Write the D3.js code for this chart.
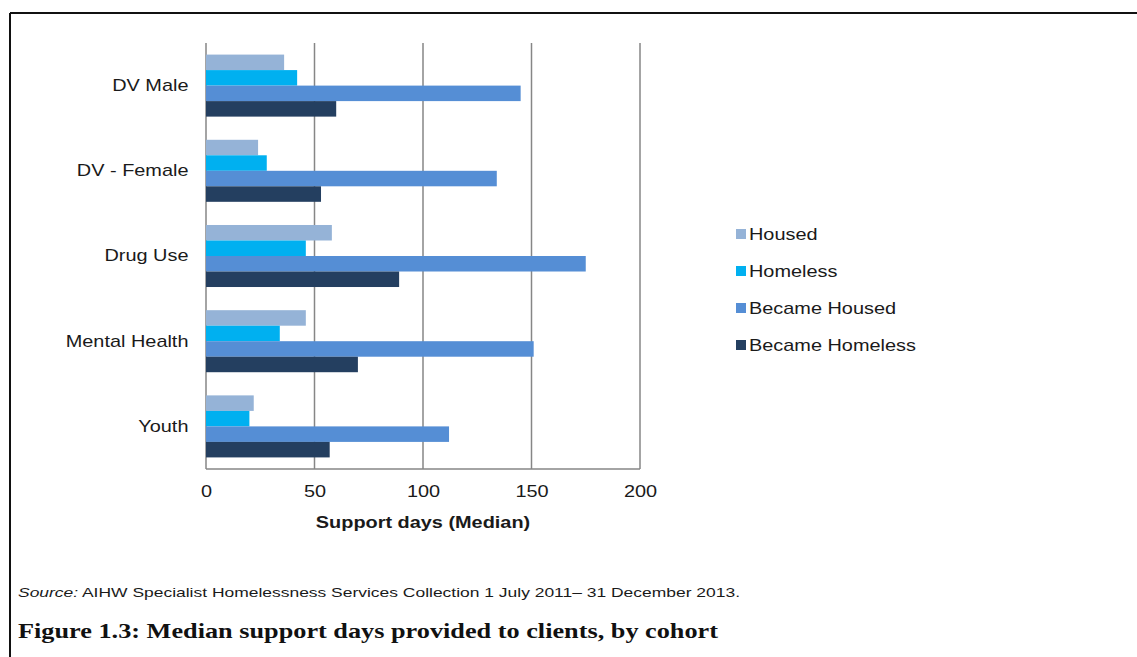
<!DOCTYPE html>
<html>
<head>
<meta charset="utf-8">
<script src="https://cdn.jsdelivr.net/npm/d3@7"></script>
<style>
  body { margin: 0; background: #fff; }
</style>
</head>
<body>
<div id="canvas"></div>
<script>
"use strict"

// the data
let cohorts = ["DV Male", "DV - Female", "Drug Use", "Mental Health", "Youth"];
let seriesNames = ["Housed", "Homeless", "Became Housed", "Became Homeless"];
let housed = [36, 24, 58, 46, 22];
let homeless = [42, 28, 46, 34, 20];
let becameHoused = [145, 134, 175, 151, 112];
let becameHomeless = [60, 53, 89, 70, 57];
let xTicks = [0, 50, 100, 150, 200];
let colours = ["#95b3d7", "#00b0f0", "#558ed5", "#243f60"];

let allSeries = [housed, homeless, becameHoused, becameHomeless];

let sans = "Arial, 'Liberation Sans', sans-serif";
let stretch = "scale(1.17,1)";// the scan is a bit wide

let drawing = d3.select("#canvas")
    .append("svg")
    .attr("width", 1137)
    .attr("height", 657)
    .style("font-family", sans);

/* the page frame, top and left */
drawing.append("line")
    .attr("x1", 10).attr("y1", 13)
    .attr("x2", 1137).attr("y2", 13)
    .attr("stroke", "#111")
    .attr("stroke-width", 2);
drawing.append("line")
    .attr("x1", 10).attr("y1", 13)
    .attr("x2", 10).attr("y2", 657)
    .attr("stroke", "#111")
    .attr("stroke-width", 2);

/* scales */
let x = d3.scaleLinear()
    .domain([0, 200])
    .range([206, 640]);

let y = d3.scaleBand()
    .domain(cohorts)
    .range([43, 469])
    .paddingInner(0.272)
    .paddingOuter(0.136);

let ySeries = d3.scaleBand()
    .domain(seriesNames)
    .range([0, y.bandwidth()]);

/* gridlines */
drawing.append("g")
    .selectAll("line")
    .data(xTicks)
    .join("line")
    .attr("x1", d => x(d))
    .attr("x2", d => x(d))
    .attr("y1", 43)
    .attr("y2", 469)
    .attr("stroke", "#868686")
    .attr("stroke-width", 1.5);

/* bottom line of the plot */
drawing.append("line")
    .attr("x1", x(0)).attr("x2", x(200))
    .attr("y1", 469).attr("y2", 469)
    .attr("stroke", "#868686")
    .attr("stroke-width", 1.5);

/* bars */
seriesNames.forEach(function(name, i) {
    drawing.append("g")
        .selectAll("rect")
        .data(allSeries[i])
        .join("rect")
        .attr("x", x(0))
        .attr("y", (d, j) => y(cohorts[j]) + ySeries(name))
        .attr("width", d => x(d) - x(0))
        .attr("height", ySeries.bandwidth())
        .attr("fill", colours[i]);
});

/* x axis labels */
let xAxis = d3.axisBottom(x)
    .tickValues(xTicks)
    .tickSize(0)
    .tickPadding(16);
let xAxisG = drawing.append("g")
    .attr("transform", "translate(0,469)")
    .call(xAxis);
xAxisG.select(".domain").remove();
xAxisG.selectAll("text")
    .attr("font-size", 17)
    .attr("font-family", sans)
    .attr("transform", stretch)
    .attr("fill", "#1a1a1a");

/* category labels */
let yAxis = d3.axisLeft(y)
    .tickSize(0)
    .tickPadding(15);
let yAxisG = drawing.append("g")
    .attr("transform", "translate(206,0)")
    .call(yAxis);
yAxisG.select(".domain").remove();
yAxisG.selectAll("text")
    .attr("font-size", 17)
    .attr("font-family", sans)
    .attr("transform", stretch)
    .attr("fill", "#1a1a1a");

/* axis title */
drawing.append("text")
    .attr("transform", "translate(423,528) " + stretch)
    .attr("text-anchor", "middle")
    .attr("font-size", 17)
    .attr("font-weight", "bold")
    .attr("fill", "#1a1a1a")
    .text("Support days (Median)");

/* legend */
let legend = drawing.append("g")
    .selectAll("g")
    .data(seriesNames)
    .join("g")
    .attr("transform", (d, i) => "translate(736," + (234 + i * 37) + ")");
legend.append("rect")
    .attr("x", 0)
    .attr("y", -5)
    .attr("width", 10)
    .attr("height", 10)
    .attr("fill", (d, i) => colours[i]);
legend.append("text")
    .attr("transform", "translate(13,6) " + stretch)
    .attr("font-size", 17)
    .attr("fill", "#1a1a1a")
    .text(d => d);

/* source note */
let source = drawing.append("text")
    .attr("x", 18)
    .attr("y", 597)
    .attr("font-size", 13.5)
    .attr("textLength", 722)
    .attr("lengthAdjust", "spacingAndGlyphs")
    .attr("fill", "#1a1a1a");
source.append("tspan")
    .attr("font-style", "italic")
    .text("Source:");
source.append("tspan")
    .text(" AIHW Specialist Homelessness Services Collection 1 July 2011\u2013 31 December 2013.");

/* figure caption */
drawing.append("text")
    .attr("x", 18)
    .attr("y", 638)
    .attr("font-size", 21)
    .attr("font-weight", "bold")
    .style("font-family", "'Liberation Serif', 'DejaVu Serif', serif")
    .attr("textLength", 700)
    .attr("lengthAdjust", "spacingAndGlyphs")
    .attr("fill", "#111")
    .text("Figure 1.3: Median support days provided to clients, by cohort");
</script>
</body>
</html>
